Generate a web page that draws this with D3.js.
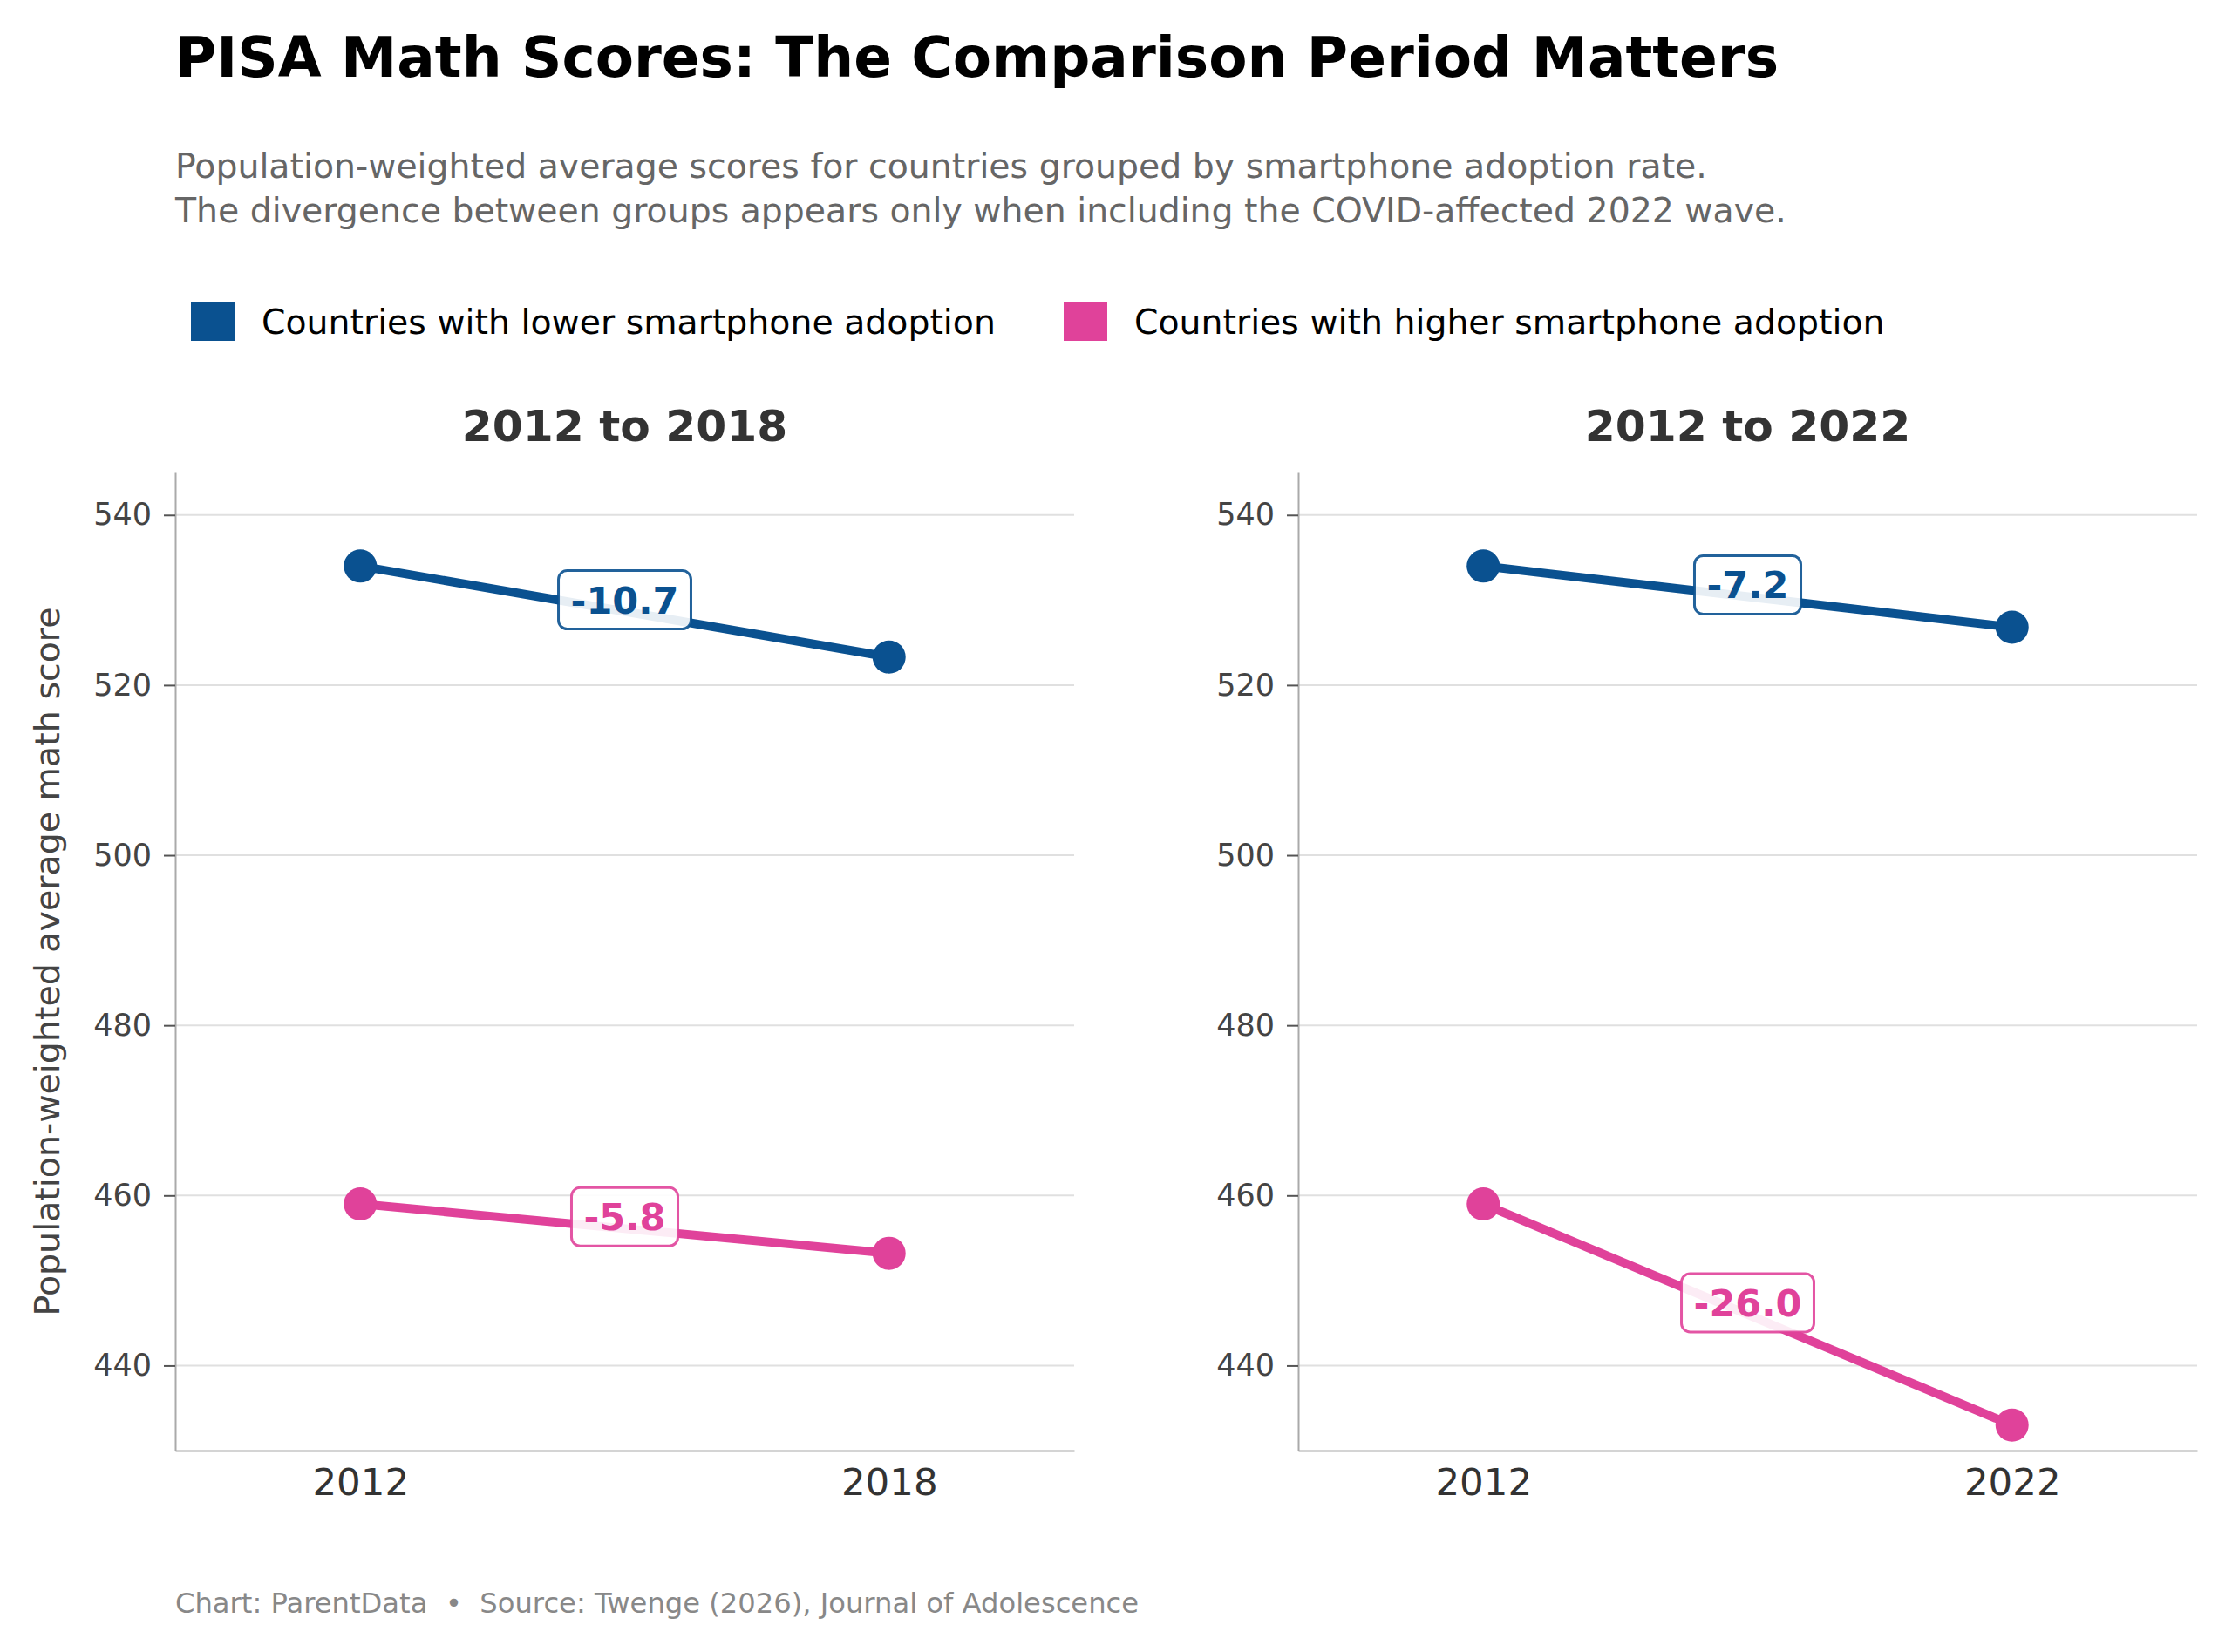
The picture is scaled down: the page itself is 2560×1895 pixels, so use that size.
<!DOCTYPE html>
<html>
<head>
<meta charset="utf-8">
<script src="https://cdn.jsdelivr.net/npm/d3@7"></script>
<style>
  body { margin: 0; background: #fff; }
  text { font-family: "DejaVu Sans", sans-serif; white-space: pre; }
</style>
</head>
<body>
<div id="chart"></div>
<script>
var svgWidth = 2560;
var svgHeight = 1895;

// data
var years = ['2012', '2018', '2022'];
var groups = ['Countries with lower smartphone adoption', 'Countries with higher smartphone adoption'];
var lowerScores = [534.0, 523.3, 526.8];
var higherScores = [459.0, 453.2, 433.0];
var panelTitles = ['2012 to 2018', '2012 to 2022'];
var panelEnds = [1, 2];   // index into years for the end point of each panel
var yTicks = [440, 460, 480, 500, 520, 540];

var colors = ['#0a5190', '#e0429a'];

var topMargin = 542;
var chartHeight = 1664 - topMargin;
var panelLefts = [201, 1489];
var panelWidth = 1031;

var svg = d3.select('#chart')
    .append('svg')
    .attr('width', svgWidth)
    .attr('height', svgHeight);

svg.append('text')
    .attr('x', 201)
    .attr('y', 88)
    .attr('font-size', 64.5)
    .attr('font-weight', 'bold')
    .attr('fill', '#000')
    .text('PISA Math Scores: The Comparison Period Matters');

var subtitle = ['Population-weighted average scores for countries grouped by smartphone adoption rate.',
    'The divergence between groups appears only when including the COVID-affected 2022 wave.'];

svg.selectAll('.subtitle')
    .data(subtitle)
    .enter()
    .append('text')
    .attr('class', 'subtitle')
    .attr('x', 201)
    .attr('y', (d, i) => 204 + i * 51)
    .attr('font-size', 39.4)
    .attr('fill', '#666')
    .text(d => d);

// legend
var legendX = [219, 1220];
var legend = svg.selectAll('.legend')
    .data(groups)
    .enter()
    .append('g')
    .attr('class', 'legend')
    .attr('transform', (d, i) => `translate(${legendX[i]}, 346)`);

legend.append('rect')
    .attr('width', 50)
    .attr('height', 45)
    .attr('fill', (d, i) => colors[i]);

legend.append('text')
    .attr('x', 81)
    .attr('y', 37)
    .attr('font-size', 39.4)
    .attr('fill', '#000')
    .text(d => d);

var y = d3.scaleLinear()
    .domain([430, 545])
    .range([chartHeight, 0]);

panelTitles.forEach(function(title, p) {
    var endIdx = panelEnds[p];
    var xLabels = [years[0], years[endIdx]];

    var x = d3.scaleLinear()
        .domain([-0.35, 1.35])
        .range([0, panelWidth]);

    var g = svg.append('g')
        .attr('transform', `translate(${panelLefts[p]}, ${topMargin})`);

    g.append('text')
        .attr('x', panelWidth / 2)
        .attr('y', -36)
        .attr('text-anchor', 'middle')
        .attr('font-size', 50.3)
        .attr('font-weight', 'bold')
        .attr('fill', '#333')
        .text(title);

    // grid
    g.selectAll('.grid')
        .data(yTicks)
        .enter()
        .append('line')
        .attr('x1', 0)
        .attr('x2', panelWidth)
        .attr('y1', d => y(d))
        .attr('y2', d => y(d))
        .attr('stroke', '#e0e0e0')
        .attr('stroke-width', 2);

    var yAxis = g.append('g')
        .call(d3.axisLeft(y).tickValues(yTicks).tickSize(13).tickSizeOuter(0).tickPadding(14));
    yAxis.select('.domain').attr('stroke', '#aaa').attr('stroke-width', 2);
    yAxis.selectAll('.tick line').attr('stroke', '#555').attr('stroke-width', 2);
    yAxis.selectAll('.tick text')
        .attr('font-size', 35)
        .attr('fill', '#444')
        .attr('font-family', 'DejaVu Sans');

    var xAxis = g.append('g')
        .attr('transform', `translate(0, ${chartHeight})`)
        .call(d3.axisBottom(x).tickValues([0, 1]).tickFormat(i => xLabels[i]).tickSize(0).tickSizeOuter(0).tickPadding(20));
    xAxis.select('.domain').attr('stroke', '#aaa').attr('stroke-width', 2);
    xAxis.selectAll('.tick text')
        .attr('font-size', 43.5)
        .attr('fill', '#333')
        .attr('font-family', 'DejaVu Sans');

    var series = [
        [lowerScores[0], lowerScores[endIdx]],
        [higherScores[0], higherScores[endIdx]]
    ];

    var line = d3.line()
        .x((d, i) => x(i))
        .y(d => y(d));

    series.forEach(function(vals, s) {
        g.append('path')
            .datum(vals)
            .attr('d', line)
            .attr('fill', 'none')
            .attr('stroke', colors[s])
            .attr('stroke-width', 10);

        g.selectAll('.dot' + s)
            .data(vals)
            .enter()
            .append('circle')
            .attr('cx', (d, i) => x(i))
            .attr('cy', d => y(d))
            .attr('r', 19)
            .attr('fill', colors[s]);

        var change = vals[1] - vals[0];
        var cx = x(0.5);
        var cy = (y(vals[0]) + y(vals[1])) / 2 - 13;

        var lab = g.append('g')
            .attr('transform', `translate(${cx}, ${cy})`);

        var txt = lab.append('text')
            .attr('text-anchor', 'middle')
            .attr('dominant-baseline', 'central')
            .attr('font-size', 43)
            .attr('font-weight', 'bold')
            .attr('fill', colors[s])
            .text(change.toFixed(1));

        var w = txt.node().getComputedTextLength() + 28;
        lab.insert('rect', 'text')
            .attr('x', -w / 2)
            .attr('y', -34)
            .attr('width', w)
            .attr('height', 67)
            .attr('rx', 10)
            .attr('fill', '#fff')
            .attr('fill-opacity', 0.9)
            .attr('stroke', colors[s])
            .attr('stroke-opacity', 0.9)
            .attr('stroke-width', 3);
    });
});

// y axis label
svg.append('text')
    .attr('transform', `translate(68, ${topMargin + chartHeight / 2}) rotate(-90)`)
    .attr('text-anchor', 'middle')
    .attr('font-size', 39.5)
    .attr('fill', '#444')
    .text('Population-weighted average math score');

svg.append('text')
    .attr('x', 201)
    .attr('y', 1850)
    .attr('font-size', 32.2)
    .attr('fill', '#888')
    .text('Chart: ParentData  \u2022  Source: Twenge (2026), Journal of Adolescence');
</script>
</body>
</html>
